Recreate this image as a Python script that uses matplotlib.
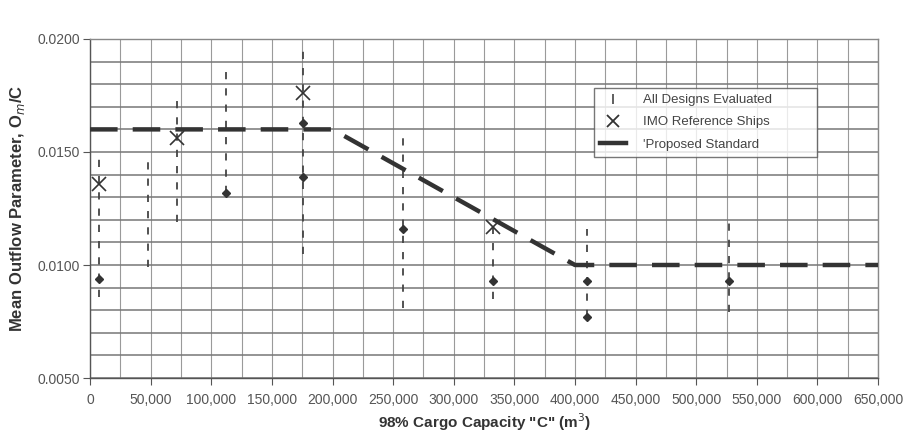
import matplotlib
matplotlib.use("Agg")
import matplotlib.pyplot as plt
from matplotlib.ticker import MultipleLocator, FuncFormatter
from matplotlib.lines import Line2D

plt.rcParams['font.family'] = ['Liberation Sans', 'DejaVu Sans']

# range of all designs evaluated at each cargo capacity
capacity = [7000, 48000, 72000, 112000, 176000, 258000, 332000, 410000, 527000]
range_hi = [0.0150, 0.0146, 0.0173, 0.0188, 0.0197, 0.0158, 0.0117, 0.0116, 0.0121]
range_lo = [0.0086, 0.0099, 0.0119, 0.0132, 0.0105, 0.0081, 0.0085, 0.0077, 0.0079]

# individual design points (diamonds)
pt_x = [7000, 112000, 176000, 176000, 258000, 332000, 410000, 410000, 527000]
pt_y = [0.0094, 0.0132, 0.0163, 0.0139, 0.0116, 0.0093, 0.0093, 0.0077, 0.0093]

# IMO reference ships
imo_x = [7000, 72000, 176000, 332000]
imo_y = [0.0136, 0.0156, 0.0176, 0.0117]

# proposed standard
std_x = [0, 200000, 400000, 650000]
std_y = [0.0160, 0.0160, 0.0100, 0.0100]

fig = plt.figure(figsize=(9.04, 4.36), dpi=100)
ax = fig.add_axes([0.0996, 0.133, 0.8717, 0.7776])

ax.set_xlim(0, 650000)
ax.set_ylim(0.005, 0.020)

ax.xaxis.set_major_locator(MultipleLocator(50000))
ax.xaxis.set_minor_locator(MultipleLocator(25000))
ax.yaxis.set_major_locator(MultipleLocator(0.005))
ax.yaxis.set_minor_locator(MultipleLocator(0.001))
ax.xaxis.set_major_formatter(FuncFormatter(lambda v, p: f"{int(v):,}"))
ax.yaxis.set_major_formatter(FuncFormatter(lambda v, p: f"{v:.4f}"))

ax.grid(which='both', axis='x', color='#9a9a9a', lw=0.8)
ax.grid(which='both', axis='y', color='#777777', lw=1.1)
ax.set_axisbelow(True)

for s in ax.spines.values():
    s.set_color('#888888')
    s.set_linewidth(1.0)
ax.spines['left'].set_color('#555555')
ax.spines['bottom'].set_color('#555555')

ax.tick_params(which='major', length=5, color='#555555', labelcolor='#555555',
               labelsize=10)
ax.tick_params(axis='x', pad=6)
ax.tick_params(axis='y', pad=2)
ax.tick_params(which='minor', length=0)

ax.vlines(capacity, range_lo, range_hi, colors='#444444', lw=1.3,
          linestyles=(0, (4, 5)), zorder=3)
ax.plot(pt_x, pt_y, 'D', color='#333333', ms=4, zorder=4)
ax.plot(imo_x, imo_y, 'x', color='#333333', ms=10, mew=1.2, zorder=4)
ax.plot(std_x, std_y, color='#333333', lw=3.2, linestyle=(0, (6.2, 3.4)),
        solid_capstyle='butt', dash_capstyle='butt', zorder=5)

ax.set_xlabel('98% Cargo Capacity "C" (m$^3$)', fontsize=11, fontweight='bold',
              color='#333333', labelpad=3)
ax.set_ylabel('Mean Outflow Parameter, O$_m$/C', fontsize=12, fontweight='bold',
              color='#333333', labelpad=8)

handles = [
    Line2D([], [], marker='|', color='#444444', ls='none', ms=7, mew=1.2),
    Line2D([], [], marker='x', color='#333333', ls='none', ms=8, mew=1.3),
    Line2D([], [], color='#333333', lw=3.2),
]
labels = ['All Designs Evaluated', 'IMO Reference Ships', '\'Proposed Standard']
leg = ax.legend(handles, labels, loc='upper left',
                bbox_to_anchor=(0.639, 0.855, 0.284, 0.0), mode='expand',
                frameon=True, fancybox=False, fontsize=9.5, labelcolor='#444444',
                handlelength=2.0, borderpad=0.45, labelspacing=0.75,
                handletextpad=1.3, borderaxespad=0)
leg.get_frame().set_edgecolor('#555555')
leg.get_frame().set_linewidth(1.0)

fig.savefig('out.png', dpi=100)
